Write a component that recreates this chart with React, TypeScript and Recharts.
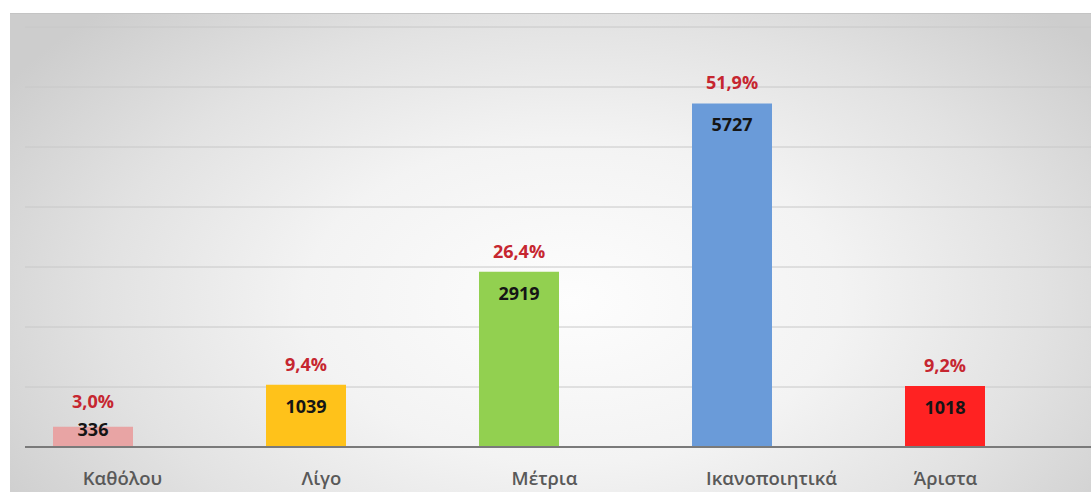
import { BarChart, Bar, XAxis, YAxis, CartesianGrid, LabelList, Cell } from 'recharts';

const categories = ['Καθόλου', 'Λίγο', 'Μέτρια', 'Ικανοποιητικά', 'Άριστα'];
const counts = [336, 1039, 2919, 5727, 1018];
const percents = [3.0, 9.4, 26.4, 51.9, 9.2];
const barColors = ['#e8a4a4', '#ffc21a', '#92d050', '#6a9bd9', '#ff2222'];
const yTicks = [0, 1000, 2000, 3000, 4000, 5000, 6000, 7000];

const data = categories.map((name, i) => ({
  name,
  count: counts[i],
  pct: percents[i].toFixed(1).replace('.', ',') + '%',
}));

const FONT = '"Open Sans", "Noto Sans", sans-serif';

// the category captions in the original sit a bit right of their bars
const tickShift = [30, 16, 26, 40, 1];

// count sits inside the bar top; on very short bars it rides on the top edge
const countY = (y: number, h: number) => (h < 40 ? y + 2 : y + 21);

const CountLabel = (props: any) => {
  const { x, y, width, height, value } = props;
  return (
    <text
      x={x + width / 2}
      y={countY(y, height)}
      textAnchor="middle"
      dominantBaseline="central"
      fontFamily={FONT}
      fontWeight={700}
      fontSize={18}
      fill="#151515"
    >
      {value}
    </text>
  );
};

const PctLabel = (props: any) => {
  const { x, y, width, height, value } = props;
  const py = Math.min(y - 21, countY(y, height) - 28);
  return (
    <text
      x={x + width / 2}
      y={py}
      textAnchor="middle"
      dominantBaseline="central"
      fontFamily={FONT}
      fontWeight={700}
      fontSize={18}
      fill="#c62630"
    >
      {value}
    </text>
  );
};

const CategoryTick = (props: any) => {
  const { x, y, payload, index } = props;
  return (
    <text
      x={x + (tickShift[index] ?? 0)}
      y={y + 22}
      textAnchor="middle"
      dominantBaseline="central"
      fontFamily={FONT}
      fontWeight={600}
      fontSize={18.5}
      fill="#595959"
    >
      {payload.value}
    </text>
  );
};

export default function App() {
  return (
    <div style={{ position: 'absolute', left: 0, top: 0, width: 1091, height: 492, background: '#fff', overflow: 'hidden' }}>
      <div
        style={{
          position: 'absolute',
          left: 10,
          top: 13,
          right: 0,
          bottom: 0,
          borderTop: '1px solid #c4c4c4',
          background: 'radial-gradient(ellipse 62% 85% at 52% 60%, #fdfdfd 0%, #f3f3f3 40%, #e2e2e2 70%, #cdcdcd 100%)',
        }}
      />
      <div style={{ position: 'absolute', left: 0, top: 0 }}>
        <BarChart width={1091} height={492} data={data} margin={{ top: 27, right: 0, left: 25, bottom: 0 }}>
          <CartesianGrid vertical={false} stroke="#c8c8c8" strokeWidth={1} />
          <YAxis hide domain={[0, 7000]} ticks={yTicks} />
          <XAxis
            dataKey="name"
            height={45}
            padding={{ left: -39, right: 40 }}
            tickLine={false}
            axisLine={{ stroke: '#7a7a7a', strokeWidth: 2 }}
            tick={CategoryTick}
            interval={0}
          />
          <Bar dataKey="count" barSize={80} isAnimationActive={false}>
            {data.map((d, i) => (
              <Cell key={d.name} fill={barColors[i]} />
            ))}
            <LabelList dataKey="count" content={CountLabel} />
            <LabelList dataKey="pct" content={PctLabel} />
          </Bar>
        </BarChart>
      </div>
    </div>
  );
}
